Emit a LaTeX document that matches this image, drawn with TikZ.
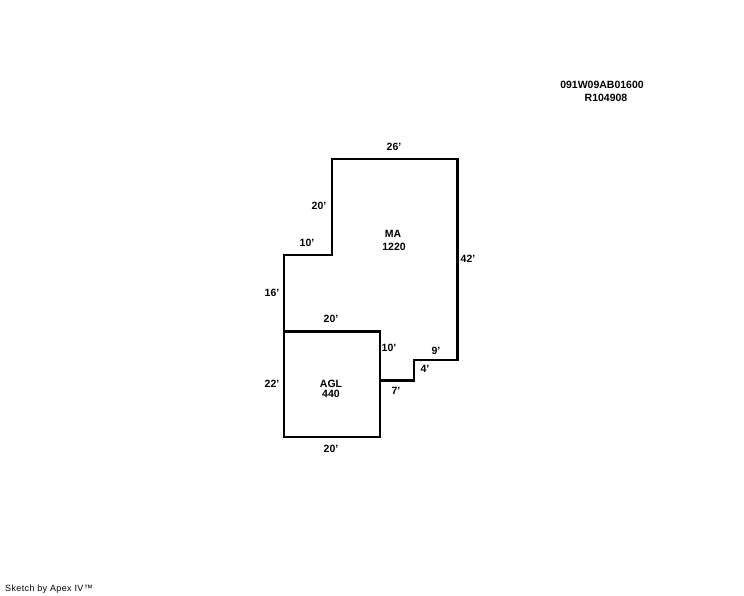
\documentclass[tikz,border=0pt]{standalone}
\usepackage{fontspec}
\setmainfont{Liberation Sans}
\tikzset{
  dim/.style={inner sep=0pt,font=\fontsize{10.5}{10.5}\selectfont\bfseries},
  wall/.style={line width=2pt,line cap=rect,line join=miter},
  heavy/.style={line width=3pt,line cap=butt}
}
\begin{document}
\begin{tikzpicture}[x=1pt,y=-1pt]
    \useasboundingbox (0,0) rectangle (744,595);
    % main area outline, then the walls drawn heavier
    \draw[wall] (284,331)--(284,255)--(332,255)--(332,159)--(457,159);
    \draw[wall] (457,360)--(414,360)--(414,380);
    \draw[heavy] (457,158)--(457,361);
    \draw[heavy] (415,380)--(380,380);
    % garage
    \draw[wall] (284,331) rectangle (380,437);
    \draw[heavy] (283,331)--(381,331);
    \node[dim] (top26) at (394,147) {26'};
    \node[dim] (up20) at (319,206) {20'};
    \node[dim] (step10) at (307,243) {10'};
    \node[dim] (left16) at (272,293) {16'};
    \node[dim] (right42) at (468,259) {42'};
    \node[dim] (mid20) at (331,319) {20'};
    \node[dim] (in10) at (389,348) {10'};
    \node[dim] (low9) at (436,351) {9'};
    \node[dim] (low4) at (425,369) {4'};
    \node[dim] (low7) at (396,391) {7'};
    \node[dim] (left22) at (272,384) {22'};
    \node[dim] (bot20) at (331,449) {20'};
    \node[dim] (maname) at (393,234) {MA};
    \node[dim] (masize) at (394,247) {1220};
    \node[dim] (aglname) at (331,384) {AGL};
    \node[dim] (aglsize) at (331,394) {440};
    \node[dim] (parcel) at (602,85) {091W09AB01600};
    \node[dim] (refno) at (606,98) {R104908};
    \node[inner sep=0pt,font=\fontsize{9}{9}\selectfont,anchor=west] (credit) at (5,589) {\addfontfeature{LetterSpace=4}Sketch by Apex IV™};
\end{tikzpicture}
\end{document}
